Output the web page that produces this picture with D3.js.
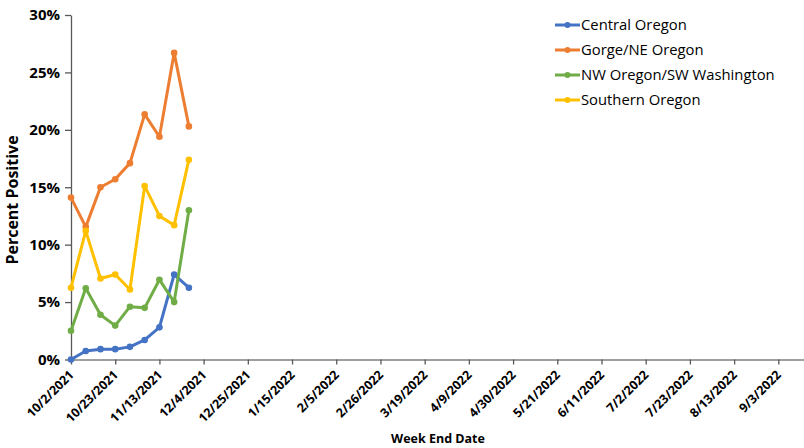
<!DOCTYPE html>
<html><head><meta charset="utf-8">
<script src="https://cdn.jsdelivr.net/npm/d3@7"></script>
<style>body{margin:0;background:#fff}svg{display:block}text{font-family:"Open Sans","Liberation Sans",sans-serif}</style>
</head><body><svg id="c" width="804" height="448"></svg>
<script>
const weeks = ["10/2/2021","10/9/2021","10/16/2021","10/23/2021","10/30/2021","11/6/2021","11/13/2021","11/20/2021","11/27/2021"];
const tickLabels = ["10/2/2021","10/23/2021","11/13/2021","12/4/2021","12/25/2021","1/15/2022","2/5/2022","2/26/2022","3/19/2022","4/9/2022","4/30/2022","5/21/2022","6/11/2022","7/2/2022","7/23/2022","8/13/2022","9/3/2022"];
const axisEnd = "9/17/2022";
const seriesNames = ["Central Oregon","Gorge/NE Oregon","NW Oregon/SW Washington","Southern Oregon"];
const centralOregon = [0.0, 0.74, 0.9, 0.9, 1.1, 1.7, 2.8, 7.4, 6.25];
const gorgeNE = [14.1, 11.55, 15.0, 15.7, 17.1, 21.35, 19.4, 26.7, 20.3];
const nwOregonSW = [2.5, 6.2, 3.9, 2.95, 4.6, 4.5, 6.95, 5.0, 13.0];
const southernOregon = [6.25, 11.2, 7.05, 7.4, 6.1, 15.1, 12.5, 11.7, 17.4];
const colors = ["#4472C4","#ED7D31","#70AD47","#FFC000"];
const yTicks = [0,5,10,15,20,25,30];

const parse = d3.timeParse("%m/%d/%Y");
const svg = d3.select("#c");
const x = d3.scaleTime().domain([parse(weeks[0]), parse(axisEnd)]).range([71, 807.8]);
const y = d3.scaleLinear().domain([0,30]).range([359.5, 15]);

// y axis
const yAxis = svg.append("g").attr("transform","translate(71,0)")
  .call(d3.axisLeft(y).tickValues(yTicks).tickFormat(d=>d+"%").tickSize(6).tickSizeOuter(0));
yAxis.select(".domain").attr("stroke","#595959").attr("stroke-width",1.3);
yAxis.selectAll(".tick line").attr("stroke","#595959").attr("stroke-width",1.3);
yAxis.selectAll("text").attr("font-size",15).attr("font-weight","bold").attr("fill","#000").attr("dx",-2);

// x axis
const xAxis = svg.append("g").attr("transform","translate(0,359.5)")
  .call(d3.axisBottom(x).tickValues(tickLabels.map(parse)).tickFormat(d3.timeFormat("%-m/%-d/%Y")).tickSize(5).tickSizeOuter(0));
xAxis.select(".domain").attr("stroke","#7f7f7f").attr("stroke-width",1.6);
xAxis.selectAll(".tick line").attr("stroke","#595959").attr("stroke-width",1.3);
xAxis.selectAll("text").attr("font-size",12.5).attr("font-weight","bold").attr("fill","#000")
  .attr("text-anchor","end").attr("y",0).attr("transform","translate(0,13) rotate(-45)").attr("dy","0.35em").attr("dx",0);

// axis titles
svg.append("text").attr("transform","translate(18,200) rotate(-90)").attr("text-anchor","middle")
  .attr("font-size",16).attr("font-weight","bold").text("Percent Positive");
svg.append("text").attr("x",438).attr("y",443).attr("text-anchor","middle")
  .attr("font-size",12.5).attr("font-weight","bold").text("Week End Date");

// series
const all = [centralOregon, gorgeNE, nwOregonSW, southernOregon];
const line = d3.line().x((d,i)=>x(parse(weeks[i]))).y(d=>y(d));
all.forEach((vals,k)=>{
  const g = svg.append("g");
  g.append("path").datum(vals).attr("d",line).attr("fill","none").attr("stroke",colors[k]).attr("stroke-width",3).attr("stroke-linejoin","round");
  g.selectAll("circle").data(vals).join("circle").attr("cx",(d,i)=>x(parse(weeks[i]))).attr("cy",d=>y(d)).attr("r",3.3).attr("fill",colors[k]);
});

// legend
const lg = svg.append("g");
seriesNames.forEach((n,k)=>{
  const yy = 25 + k*25;
  lg.append("line").attr("x1",555).attr("x2",580).attr("y1",yy).attr("y2",yy).attr("stroke",colors[k]).attr("stroke-width",3);
  lg.append("circle").attr("cx",567.5).attr("cy",yy).attr("r",3).attr("fill",colors[k]);
  lg.append("text").attr("x",581).attr("y",yy).attr("dy","0.35em").attr("font-size",14.8).attr("fill","#000").text(n);
});
</script></body></html>
